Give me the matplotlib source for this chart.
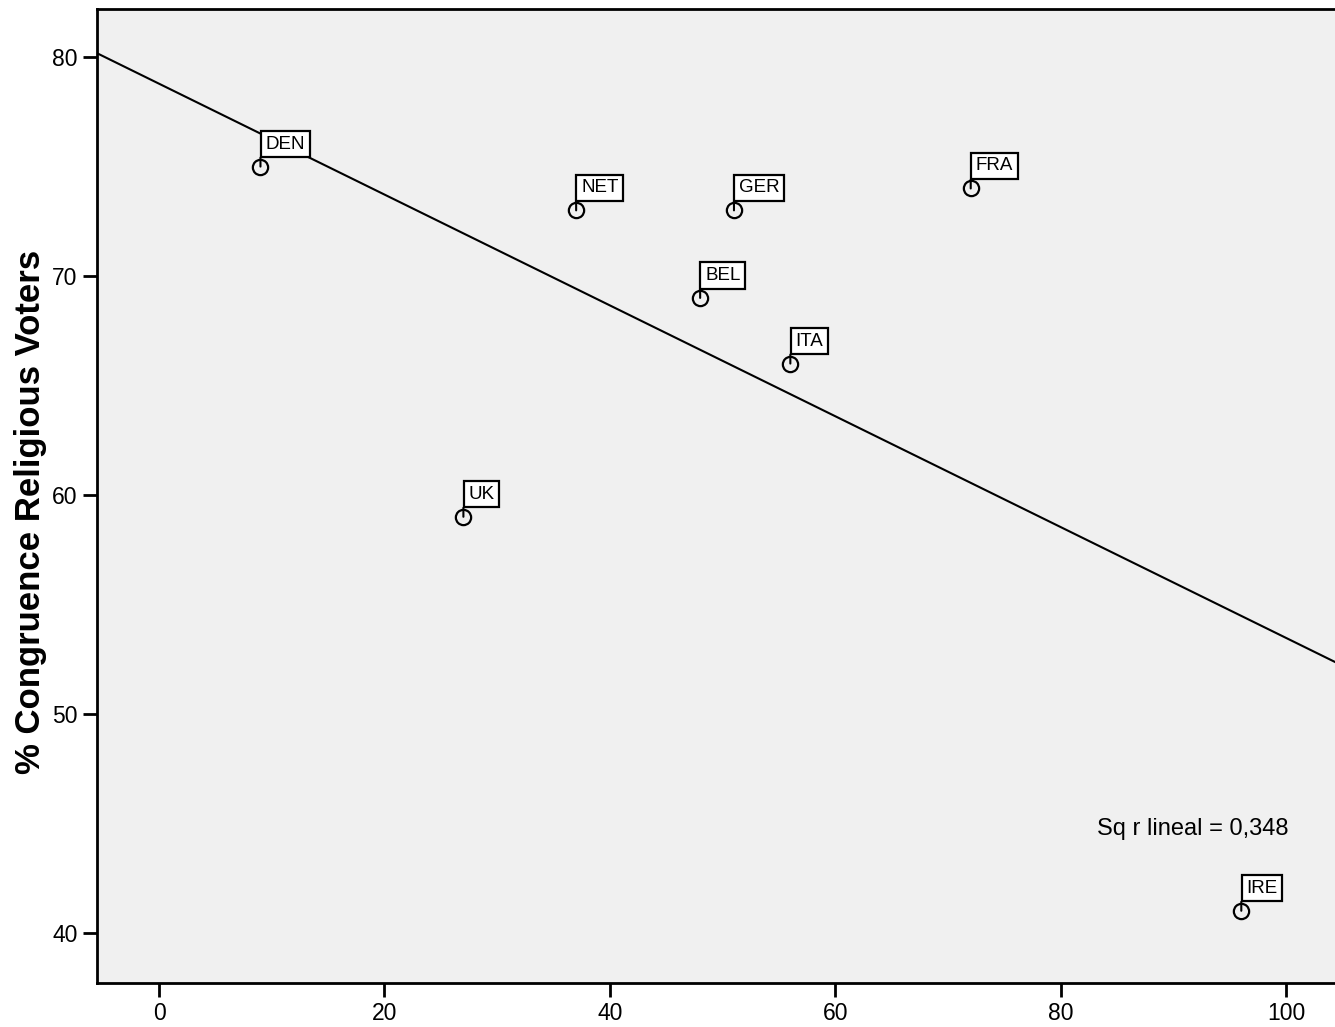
import matplotlib
matplotlib.use("Agg")
import matplotlib.pyplot as plt
import numpy as np

plt.rcParams['font.family'] = ['Liberation Sans', 'DejaVu Sans']

countries = ["DEN", "NET", "GER", "FRA", "BEL", "ITA", "UK", "IRE"]
x_vals = [9, 37, 51, 72, 48, 56, 27, 96]
y_vals = [75, 73, 73, 74, 69, 66, 59, 41]
x_ticks = [0, 20, 40, 60, 80, 100]
y_ticks = [40, 50, 60, 70, 80]
y_label = "% Congruence Religious Voters"
r2_text = "Sq r lineal = 0,348"

W, H = 1335, 1027
fig = plt.figure(figsize=(W / 100, H / 100), dpi=100)
left, right, top, bottom = 97, 1336, 9, 983
ax = fig.add_axes([left / W, 1 - bottom / H, (right - left) / W, (bottom - top) / H])
ax.set_facecolor("#f0f0f0")

ax.set_xlim(-5.5, 104.4)
ax.set_ylim(37.7, 82.2)

# regression line
xa = np.array(x_vals, dtype=float)
ya = np.array(y_vals, dtype=float)
slope, intercept = np.polyfit(xa, ya, 1)
xl = np.array(ax.get_xlim())
ax.plot(xl, intercept + slope * xl, color="black", lw=1.5, zorder=2)

# markers
ax.plot(xa, ya, linestyle="none", marker="o", markersize=11, markerfacecolor="none",
        markeredgecolor="black", markeredgewidth=1.6, zorder=4)

# labels
for c, xv, yv in zip(countries, x_vals, y_vals):
    ax.annotate("", xy=(xv, yv), xytext=(0, 9), textcoords="offset pixels",
                arrowprops=dict(arrowstyle="-", lw=1.5, color="black", shrinkA=0, shrinkB=0),
                zorder=5)
    ax.annotate(c, xy=(xv, yv), xytext=(5, 14), textcoords="offset pixels",
                ha="left", va="bottom", fontsize=13.5, color="black",
                bbox=dict(boxstyle="square,pad=0.25", fc="white", ec="black", lw=1.6),
                zorder=6)

ax.text(83.2, 44.75, r2_text, ha="left", va="center", fontsize=17, color="black")

ax.set_xticks(x_ticks)
ax.set_yticks(y_ticks)
ax.tick_params(axis="both", direction="out", length=10, width=2, labelsize=16.5)
ax.tick_params(axis="x", pad=4)
ax.tick_params(axis="y", pad=4)
for s in ["left", "bottom", "top"]:
    ax.spines[s].set_linewidth(2)
ax.spines["right"].set_visible(False)

ax.set_ylabel(y_label, fontsize=25, fontweight="bold")
ax.yaxis.set_label_coords(-0.04, 0.484)

fig.savefig("out.png", dpi=100)
